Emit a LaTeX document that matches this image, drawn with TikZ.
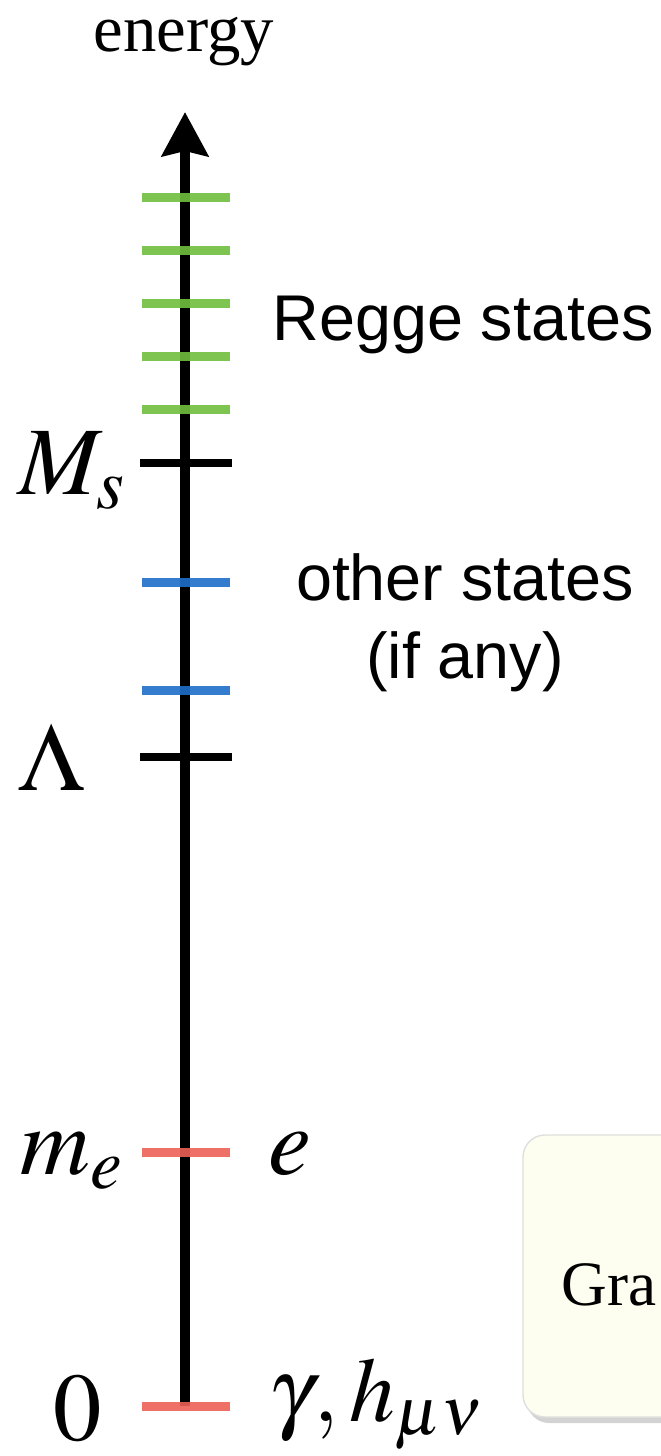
\documentclass[tikz,border=0pt]{standalone}
\usepackage{mathptmx}
\usepackage{fontspec}
\setmainfont{Liberation Serif}
\setsansfont{Liberation Sans}
\usepackage{tikz}
\usetikzlibrary{arrows.meta,shadows}
\definecolor{reggegreen}{RGB}{112,190,62}
\definecolor{otherblue}{RGB}{30,110,200}
\definecolor{lightred}{RGB}{236,96,86}
\definecolor{boxfill}{RGB}{253,253,240}
\tikzset{
  axis/.style={line width=1.05mm, -{Stealth[length=4.4mm, width=4.6mm, inset=0.5mm]}},
  cutoff/.style={line width=0.75mm, black},
  level/.style={line width=0.9mm, opacity=0.9},
  regge/.style={level, reggegreen},
  other/.style={level, otherblue},
  light/.style={level, lightred},
  lbl/.style={inner sep=0pt, font=\fontsize{27.5}{32}\selectfont},
  txt/.style={inner sep=0pt, font=\sffamily\fontsize{18.4}{22}\selectfont, align=center},
  gbox/.style={draw=gray!25, fill=boxfill, rounded corners=2.2mm,
               drop shadow={opacity=0.35, shadow xshift=0.4mm, shadow yshift=-0.6mm}}
}
\begin{document}
\begin{tikzpicture}[x=0.1mm, y=-0.1mm]
  \useasboundingbox (0,0) rectangle (660,1456);
  % axis
  \coordinate (bot) at (185,1406);
  \coordinate (top) at (185,112);
  \draw[axis] (bot) -- (top);
  \node[inner sep=0pt, font=\fontsize{19}{22}\selectfont, anchor=base] (energy) at (184,51) {energy};

  % levels
  \foreach \y in {197,250,303,356,409}
    \draw[regge] (142,\y) -- (230,\y);
  \foreach \y in {582,690}
    \draw[other] (142,\y) -- (230,\y);
  \foreach \y in {1152,1406}
    \draw[light] (142,\y) -- (230,\y);
  \draw[cutoff] (140,463) -- (232,463);
  \draw[cutoff] (140,757) -- (232,757);

  % scales
  \node[lbl, anchor=base west] (ms) at (18,494) {$M_s$};
  \node[lbl, anchor=base west] (lam) at (18,790) {$\Lambda$};
  \node[lbl, anchor=base west] (me) at (20,1174) {$m_e$};
  \node[lbl, anchor=base west] (zero) at (53,1440) {$0$};

  % states
  \node[lbl, anchor=base west] (el) at (268,1174) {$e$};
  \node[lbl, anchor=base west, font=\fontsize{26}{30}\selectfont] (massless) at (268,1421) {$\gamma, h_{\mu\nu}$};
  \node[txt] (rs) at (463,325) {Regge states};
  \node[txt] (os) at (465,577) {other states};
  \node[txt] (ia) at (465,662) {(if any)};

  % box
  \draw[gbox] (523,1135) rectangle (720,1417);
  \node[inner sep=0pt, font=\fontsize{18}{22}\selectfont, anchor=base west] (grav) at (561,1305) {Gra};
\end{tikzpicture}
\end{document}
